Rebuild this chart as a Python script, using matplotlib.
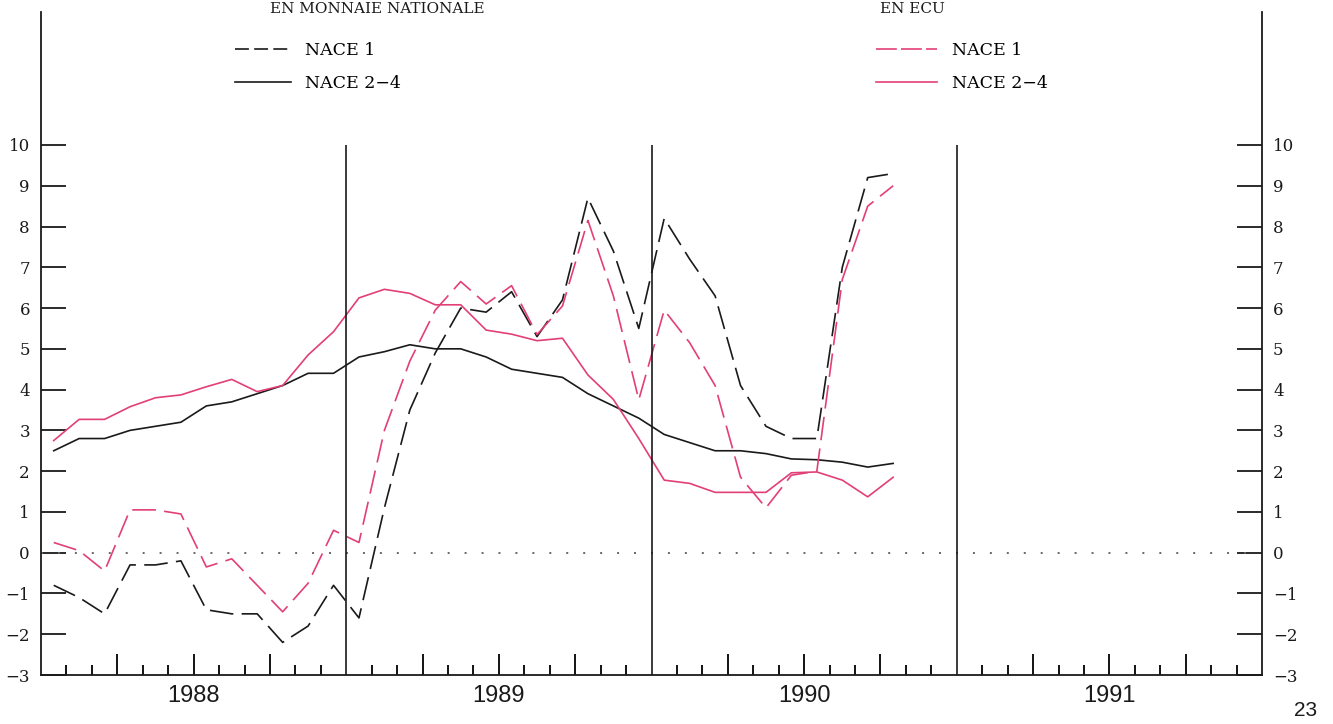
import matplotlib
matplotlib.use("Agg")
import matplotlib.pyplot as plt
from matplotlib.lines import Line2D

plt.rcParams['lines.scale_dashes'] = False

# monthly values, Jan 1988 - Oct 1990
years = ['1988', '1989', '1990', '1991']
months = list(range(34))

nat_nace1 = [-0.8, -1.1, -1.5, -0.3, -0.3, -0.2, -1.4, -1.5, -1.5, -2.2, -1.8, -0.8,
             -1.6, 1.1, 3.5, 4.9, 6.0, 5.9, 6.4, 5.3, 6.2, 8.7, 7.4, 5.5,
             8.2, 7.2, 6.3, 4.1, 3.1, 2.8, 2.8, 7.0, 9.2, 9.3]
nat_nace24 = [2.5, 2.8, 2.8, 3.0, 3.1, 3.2, 3.6, 3.7, 3.9, 4.1, 4.4, 4.4,
              4.8, 4.93, 5.1, 5.0, 5.0, 4.8, 4.5, 4.4, 4.3, 3.9, 3.6, 3.3,
              2.9, 2.7, 2.5, 2.5, 2.43, 2.3, 2.28, 2.22, 2.1, 2.19]
ecu_nace1 = [0.25, 0.05, -0.45, 1.05, 1.05, 0.95, -0.35, -0.15, -0.8, -1.45, -0.75, 0.55,
             0.25, 3.0, 4.7, 5.95, 6.65, 6.1, 6.55, 5.35, 6.05, 8.15, 6.3, 3.75,
             5.95, 5.15, 4.1, 1.85, 1.1, 1.9, 2.0, 6.7, 8.5, 9.0]
ecu_nace24 = [2.75, 3.27, 3.27, 3.58, 3.8, 3.87, 4.07, 4.25, 3.95, 4.1, 4.85, 5.42,
              6.25, 6.46, 6.36, 6.08, 6.08, 5.46, 5.36, 5.2, 5.26, 4.36, 3.76, 2.8,
              1.78, 1.7, 1.48, 1.48, 1.48, 1.96, 1.98, 1.78, 1.37, 1.85]

black = '#1a1a1a'
pink = '#e23f78'
serif = 'DejaVu Serif'

W, H = 1333, 724
fig = plt.figure(figsize=(W / 100, H / 100), dpi=100)
ax = fig.add_axes([41 / W, (H - 675) / H, (1262 - 41) / W, (675 - 12) / H])

ytop = -3 + 663 / 40.77
ax.set_xlim(0, 48)
ax.set_ylim(-3, ytop)

x = [m + 0.5 for m in months]
ax.plot(x, nat_nace1, color=black, lw=1.2, dashes=(17, 6))
ax.plot(x, nat_nace24, color=black, lw=1.2)
ax.plot(x, ecu_nace1, color=pink, lw=1.2, dashes=(17, 6))
ax.plot(x, ecu_nace24, color=pink, lw=1.2)

# zero line and year separators
ax.axhline(0, color='#666666', lw=1.4, dashes=(1.4, 10.8))
ax.vlines([12, 24, 36], -3, 10, color=black, lw=1.2)

ax.spines['top'].set_visible(False)
for s in ['left', 'right', 'bottom']:
    ax.spines[s].set_linewidth(1.3)
    ax.spines[s].set_color(black)

ax.set_yticks(range(-3, 11))
ax.tick_params(axis='y', direction='in', length=18, width=1.3, left=True, right=True,
               labelleft=True, labelright=True, pad=8, labelsize=12, colors=black)
for lab in ax.get_yticklabels():
    lab.set_family(serif)

quarters = [q for q in range(3, 48, 3) if q % 12 != 0]
monthly = [m for m in range(1, 48) if m % 3 != 0]
ax.set_xticks(quarters)
ax.set_xticks(monthly, minor=True)
ax.tick_params(axis='x', which='major', direction='in', length=15, width=1.3, labelbottom=False)
ax.tick_params(axis='x', which='minor', direction='in', length=7.5, width=1.3)

for k, yr in enumerate(years):
    ax.text(6 + 12 * k, -0.031, yr, transform=ax.get_xaxis_transform(),
            ha='center', va='center', fontsize=17, family='Liberation Sans', color=black)

# legends
h1 = [Line2D([], [], color=black, lw=1.2, dashes=(10, 3.8)), Line2D([], [], color=black, lw=1.2)]
h2 = [Line2D([], [], color=pink, lw=1.2, dashes=(15, 3)), Line2D([], [], color=pink, lw=1.2)]
labels = ['NACE 1', 'NACE 2\u22124']
leg1 = fig.legend(h1, labels, loc='upper left', bbox_to_anchor=(235 / W, 1 - 42 / H),
                  frameon=False, borderpad=0, borderaxespad=0, handlelength=3.2,
                  handletextpad=0.85, labelspacing=0.95, prop={'family': serif, 'size': 12.5})
leg2 = fig.legend(h2, labels, loc='upper left', bbox_to_anchor=(876 / W, 1 - 42 / H),
                  frameon=False, borderpad=0, borderaxespad=0, handlelength=3.5,
                  handletextpad=0.85, labelspacing=0.95, prop={'family': serif, 'size': 12.5})

# headings at the top of the page
fig.text(270 / W, 1 - 2 / H, 'EN MONNAIE NATIONALE', family=serif, fontsize=11,
         ha='left', va='top', color=black)
fig.text(880 / W, 1 - 2 / H, 'EN ECU', family=serif, fontsize=11,
         ha='left', va='top', color=black)

fig.text(1306 / W, 1 - 710 / H, '23', family='Liberation Sans', fontsize=15,
         ha='center', va='center', color=black)

fig.savefig('out.png', dpi=100, facecolor='white')
